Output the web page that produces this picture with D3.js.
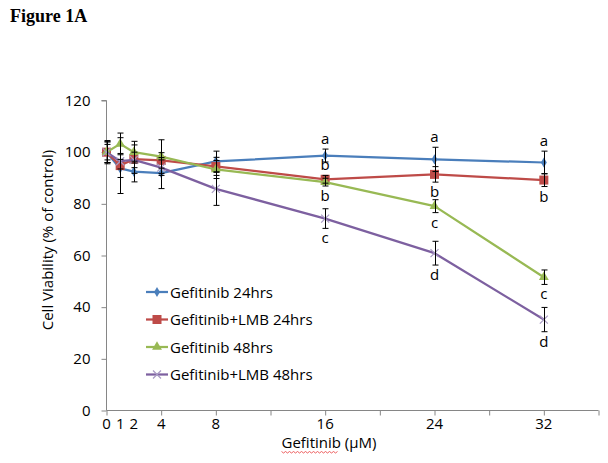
<!DOCTYPE html>
<html>
<head>
<meta charset="utf-8">
<script src="https://cdn.jsdelivr.net/npm/d3@7"></script>
<style>
  html, body { margin: 0; padding: 0; background: #fff; }
  svg { display: block; }
</style>
</head>
<body>
<svg id="chart" width="608" height="463"></svg>
<script>
// ---- data ----
const doses = [0, 1, 2, 4, 8, 16, 24, 32];
const xTickValues = [0, 4, 8, 12, 16, 20, 24, 28, 32, 36];
const xTickLabels = ["0", "1", "2", "4", "8", "16", "24", "32"];
const yTickValues = [0, 20, 40, 60, 80, 100, 120];
const seriesNames = ["Gefitinib 24hrs", "Gefitinib+LMB 24hrs", "Gefitinib 48hrs", "Gefitinib+LMB 48hrs"];
const gef24 = [100, 93.7, 92.5, 91.9, 96.4, 98.7, 97.2, 96.0];
const gefLmb24 = [100, 94.8, 97.3, 96.8, 94.5, 89.5, 91.4, 89.2];
const gef48 = [100, 103.2, 100.0, 98.3, 93.3, 88.4, 79.1, 51.6];
const gefLmb48 = [100, 96.5, 97.0, 94.0, 85.8, 74.3, 60.9, 35.2];
const gef24Err = [4.5, 3.5, 4.0, 6.0, 4.0, 2.5, 4.7, 4.4];
const gefLmb24Err = [3.0, 10.8, 5.5, 3.0, 3.5, 1.5, 3.0, 2.5];
const gef48Err = [4.0, 4.2, 4.2, 6.5, 3.5, 1.5, 2.5, 2.8];
const gefLmb48Err = [4.0, 3.0, 3.0, 3.0, 6.4, 3.8, 4.6, 4.7];
// significance letters: dose, series index, side
const letterDoses = [16, 16, 16, 16, 24, 24, 24, 24, 32, 32, 32, 32];
const letterSeries = [0, 1, 2, 3, 0, 1, 2, 3, 0, 1, 2, 3];
const letterSides = ["above", "above", "below", "below", "above", "below", "below", "below", "above", "below", "below", "below"];
const letterTexts = ["a", "b", "b", "c", "a", "b", "c", "d", "a", "b", "c", "d"];

const values = [gef24, gefLmb24, gef48, gefLmb48];
const errors = [gef24Err, gefLmb24Err, gef48Err, gefLmb48Err];
const colors = ["#4A7EBB", "#BE4B48", "#98B954", "#7D60A0"];
const markers = ["diamond", "square", "triangle", "cross"];

const series = seriesNames.map((name, i) => ({
  name, color: colors[i], marker: markers[i],
  points: doses.map((d, j) => ({ x: d, y: values[i][j], e: errors[i][j] }))
}));

// ---- layout ----
const svg = d3.select("#chart");
const font = "Open Sans, Lato, sans-serif";
const fs = 15;
const x = d3.scaleLinear().domain([0, 36]).range([106.5, 598.5]);
const y = d3.scaleLinear().domain([0, 120]).range([410.5, 100.5]);

// title
svg.append("text").attr("x", 10).attr("y", 22)
  .attr("font-family", "Liberation Serif, Times New Roman, serif")
  .attr("font-weight", "bold").attr("font-size", 18).attr("fill", "#000")
  .text("Figure 1A");

// axes
const axisColor = "#868686";
const yAxis = svg.append("g").attr("transform", `translate(${x(0)},0)`)
  .call(d3.axisLeft(y).tickValues(yTickValues).tickSize(5).tickPadding(11));
const xAxis = svg.append("g").attr("transform", `translate(0,${y(0)})`)
  .call(d3.axisBottom(x).tickValues(xTickValues).tickSize(5).tickFormat(""));
[yAxis, xAxis].forEach(g => {
  g.select(".domain").attr("stroke", axisColor).attr("stroke-width", 1);
  g.selectAll(".tick line").attr("stroke", axisColor);
});
yAxis.selectAll(".tick text").attr("font-family", font).attr("font-size", fs).attr("fill", "#000");
yAxis.select(".domain").attr("d", `M-5,${y(120)}H0V${y(0)}`);
xAxis.select(".domain").attr("d", `M${x(0)},0H${x(36)}`);

// x tick labels at dose positions
svg.append("g").selectAll("text").data(doses).join("text")
  .attr("x", d => x(d)).attr("y", 429)
  .attr("text-anchor", "middle")
  .attr("font-family", font).attr("font-size", fs).attr("fill", "#000")
  .text((d, i) => xTickLabels[i]);

// axis titles
svg.append("text")
  .attr("transform", `translate(53,240) rotate(-90)`)
  .attr("text-anchor", "middle")
  .attr("font-family", font).attr("font-size", fs).attr("fill", "#000")
  .text("Cell Viability (% of control)");
const xTitle = svg.append("text")
  .attr("x", 329).attr("y", 448)
  .attr("text-anchor", "middle")
  .attr("font-family", font).attr("font-size", fs).attr("fill", "#000")
  .text("Gefitinib (μM)");
// spell-check squiggle under "Gefitinib"
{
  const bb = xTitle.node().getBBox();
  const x0 = bb.x, x1 = bb.x + bb.width * 0.58, yy = 451.5;
  let d = `M${x0},${yy}`;
  for (let xx = x0, k = 0; xx < x1; xx += 2, k++) d += `L${xx + 2},${yy + (k % 2 ? 0 : 1.5)}`;
  svg.append("path").attr("d", d).attr("fill", "none").attr("stroke", "#E8393A").attr("stroke-width", 0.8);
}

// marker drawing
function drawMarker(g, type, color, cx, cy) {
  if (type === "diamond") {
    g.append("path").attr("d", d3.symbol(d3.symbolDiamond, 30)())
      .attr("transform", `translate(${cx},${cy})`).attr("fill", color);
  } else if (type === "square") {
    g.append("rect").attr("x", cx - 4.5).attr("y", cy - 4.5).attr("width", 9).attr("height", 9)
      .attr("fill", color);
  } else if (type === "triangle") {
    g.append("path").attr("d", d3.symbol(d3.symbolTriangle, 42)())
      .attr("transform", `translate(${cx},${cy})`).attr("fill", color);
  } else {
    g.append("path").attr("d", `M${cx - 4},${cy - 4}L${cx + 4},${cy + 4}M${cx - 4},${cy + 4}L${cx + 4},${cy - 4}`)
      .attr("stroke", "#A99BC4").attr("stroke-width", 1.2).attr("fill", "none");
  }
}

const line = d3.line().x(d => x(d.x)).y(d => y(d.y));
const plot = svg.append("g");
series.forEach(s => {
  const g = plot.append("g");
  g.append("path").datum(s.points).attr("d", line)
    .attr("fill", "none").attr("stroke", s.color).attr("stroke-width", 2.25)
    .attr("stroke-linejoin", "round");
  s.points.forEach(p => drawMarker(g, s.marker, s.color, x(p.x), y(p.y)));
});
// error bars on top
const eb = svg.append("g").attr("stroke", "#000").attr("stroke-width", 1);
series.forEach(s => {
  s.points.forEach(p => {
    const cx = Math.round(x(p.x)) + 0.5;
    eb.append("line").attr("x1", cx).attr("x2", cx).attr("y1", y(p.y - p.e)).attr("y2", y(p.y + p.e));
    [p.y - p.e, p.y + p.e].forEach(v => {
      eb.append("line").attr("x1", cx - 3).attr("x2", cx + 3).attr("y1", y(v)).attr("y2", y(v));
    });
  });
});

// significance letters
svg.append("g").selectAll("text").data(letterTexts).join("text")
  .attr("x", (t, i) => x(letterDoses[i]))
  .attr("y", (t, i) => {
    const s = series[letterSeries[i]];
    const p = s.points.find(q => q.x === letterDoses[i]);
    return letterSides[i] === "above" ? y(p.y + p.e) - 5 : y(p.y - p.e) + 15;
  })
  .attr("text-anchor", "middle")
  .attr("font-family", font).attr("font-size", fs).attr("fill", "#000")
  .text(t => t);

// legend
const legend = svg.append("g").attr("transform", "translate(146,292)");
series.forEach((s, i) => {
  const g = legend.append("g").attr("transform", `translate(0,${i * 27.5})`);
  g.append("line").attr("x1", 0).attr("x2", 22).attr("y1", 0).attr("y2", 0)
    .attr("stroke", s.color).attr("stroke-width", 2.25);
  drawMarker(g, s.marker, s.color, 11, 0);
  g.append("text").attr("x", 24).attr("y", 5.5)
    .attr("font-family", font).attr("font-size", fs).attr("fill", "#000")
    .text(s.name);
});
</script>
</body>
</html>
